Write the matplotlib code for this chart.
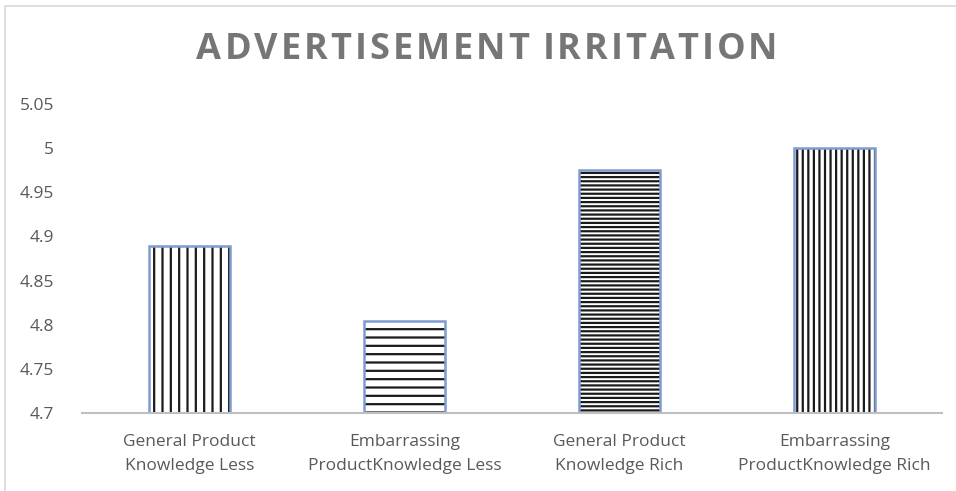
import matplotlib
matplotlib.use("Agg")
import matplotlib.pyplot as plt
from matplotlib.patches import Rectangle

categories = [
    "General Product\nKnowledge Less",
    "Embarrassing\nProductKnowledge Less",
    "General Product\nKnowledge Rich",
    "Embarrassing\nProductKnowledge Rich",
]
values = [4.889, 4.804, 4.975, 5.0]
hatches = ["||", "--", "----", "|||"]
y_ticks = [4.7, 4.75, 4.8, 4.85, 4.9, 4.95, 5.0, 5.05]
y_labels = ["4.7", "4.75", "4.8", "4.85", "4.9", "4.95", "5", "5.05"]
title = "ADVERTISEMENT IRRITATION"

plt.rcParams["font.family"] = ["Open Sans", "DejaVu Sans"]
plt.rcParams["hatch.linewidth"] = 1.6

fig = plt.figure(figsize=(9.56, 4.91), dpi=100)
ax = fig.add_axes([82 / 956, 78 / 491, 860 / 956, 309 / 491])

x = list(range(len(categories)))
for xi, val, hatch in zip(x, values, hatches):
    ax.bar(xi, val - 4.7, bottom=4.7, width=0.38, color="white",
           edgecolor="#1a1a1a", hatch=hatch, linewidth=0)
    ax.bar(xi, val - 4.7, bottom=4.7, width=0.38, fill=False,
           edgecolor="#7f9bd0", linewidth=1.8)

ax.set_xlim(-0.5, len(categories) - 0.5)
ax.set_ylim(4.7, 5.05)
ax.set_yticks(y_ticks)
ax.set_yticklabels(y_labels)
ax.set_xticks(x)
ax.set_xticklabels(categories, linespacing=1.65)
ax.tick_params(axis="both", length=0, labelsize=12.5, colors="#595959")
ax.tick_params(axis="y", pad=20)
ax.tick_params(axis="x", pad=15)
for side in ["top", "right", "left"]:
    ax.spines[side].set_visible(False)
ax.spines["bottom"].set_color("#bfbfbf")
ax.spines["bottom"].set_linewidth(1.5)

# letter-spaced title, laid out char by char
renderer = fig.canvas.get_renderer()
title_style = dict(fontsize=26, fontweight="bold", color="#767676", va="center")
widths = []
for ch in title:
    t = fig.text(0, 0, ch if ch != " " else "I", **title_style)
    widths.append(t.get_window_extent(renderer).width * (0.6 if ch == " " else 1))
    t.remove()
target_w = 581
track = (target_w - sum(widths)) / (len(title) - 1)
pos = 487 - target_w / 2
for ch, w in zip(title, widths):
    if ch != " ":
        fig.text(pos / 956, 1 - 50 / 491, ch, ha="left", **title_style)
    pos += w + track

# chart frame
fig.patches.append(Rectangle((5 / 956, -0.1), 1.1, 1 - 6 / 491 + 0.1,
                             transform=fig.transFigure, fill=False,
                             edgecolor="#d9d9d9", linewidth=1.2))

fig.savefig("out.png", dpi=100)
